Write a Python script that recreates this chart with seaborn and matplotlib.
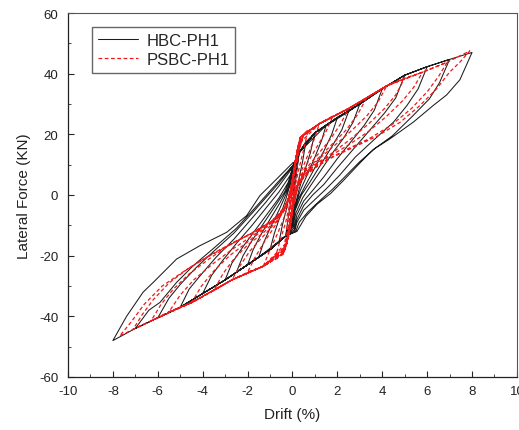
import matplotlib
matplotlib.use("Agg")
import matplotlib.pyplot as plt
import seaborn as sns
import pandas as pd
from matplotlib.ticker import MultipleLocator

# ---- data: (drift %, lateral force kN) along the loading path ----
hbc_path = [
    (0, 0), (0.3, 14), (0.18, 7), (0.05, 0), (-0.05, -6), (-0.1, -11.5), (-0.3, -13.5),
    (-0.18, -7), (-0.05, -1), (0.05, 5),
    (0.3, 14), (0.6, 17.5), (0.45, 11), (0.25, 4), (0.08, -3), (-0.05, -8),
    (-0.3, -13.5), (-0.6, -15.5), (-0.45, -10), (-0.25, -4), (-0.08, 2), (0.04, 7),
    (0.3, 14), (0.6, 17.5), (1.0, 20.5), (0.8, 14), (0.55, 8), (0.3, 2), (0.1, -4), (-0.03, -9),
    (-0.3, -13.5), (-0.6, -15.5), (-1.0, -18), (-0.8, -12.5), (-0.55, -7), (-0.3, -1.5), (-0.08, 4), (0.03, 7.5),
    (0.3, 14), (1.0, 20.5), (1.5, 23), (1.3, 18), (1.0, 12.5), (0.65, 6.5), (0.35, 1.5), (0.1, -4), (-0.02, -9.5),
    (-0.3, -13.5), (-1.0, -18), (-1.5, -20.5), (-1.3, -16), (-1.0, -11), (-0.6, -5), (-0.3, 0), (-0.05, 5), (0.03, 8),
    (0.3, 14), (1.5, 23), (2.0, 25.5), (1.75, 20), (1.4, 14.5), (1.0, 9), (0.6, 3.5), (0.25, -1.5), (0.05, -6), (-0.02, -10),
    (-0.3, -13.5), (-1.5, -20.5), (-2.0, -23), (-1.75, -18), (-1.4, -13), (-1.0, -8), (-0.55, -2.5), (-0.2, 2.5), (0.02, 8),
    (0.3, 14), (1.0, 20.5), (2.0, 25.5), (2.5, 27.5), (2.2, 21.5), (1.8, 16.5), (1.3, 10.5), (0.8, 4.5), (0.4, 0), (0.12, -5), (0.0, -10),
    (-0.3, -13.5), (-1.0, -18), (-2.0, -23), (-2.5, -25.5), (-2.2, -20), (-1.8, -15), (-1.3, -9.5), (-0.8, -4), (-0.35, 1), (-0.05, 6), (0.02, 9),
    (0.3, 14), (1.0, 20.5), (2.5, 27.5), (3.0, 30), (2.7, 24), (2.3, 19), (1.8, 14), (1.3, 8.5), (0.8, 3), (0.45, -1), (0.15, -6), (0.02, -10.5),
    (-0.3, -13.5), (-1.0, -18), (-2.5, -25.5), (-3.0, -28), (-2.7, -22.5), (-2.2, -17), (-1.7, -12), (-1.1, -6), (-0.6, -1), (-0.2, 4), (0.0, 8.5),
    (0.3, 14), (1.0, 20.5), (2.0, 25.5), (3.0, 30), (4.0, 35), (3.65, 28), (3.2, 23), (2.6, 17.5), (2.0, 12), (1.4, 6), (0.9, 1.5), (0.5, -2), (0.2, -6.5), (0.05, -11),
    (-0.3, -13.5), (-1.0, -18), (-2.0, -23), (-3.0, -28), (-4.0, -32.5), (-3.6, -26.5), (-3.1, -21.5), (-2.5, -16), (-1.8, -10), (-1.2, -4.5), (-0.6, 1), (-0.1, 6.5), (0.02, 9),
    (0.3, 14), (1.0, 20.5), (2.0, 25.5), (3.0, 30), (4.0, 35), (5.0, 39.5), (4.6, 32), (4.1, 27), (3.4, 21), (2.7, 15), (2.0, 9), (1.4, 3.5), (0.9, 0), (0.5, -3.5), (0.2, -8), (0.08, -11.5),
    (-0.3, -13.5), (-1.0, -18), (-2.0, -23), (-3.0, -28), (-4.0, -32.5), (-5.0, -37), (-4.6, -31), (-4.1, -26.5), (-3.4, -20.5), (-2.6, -14.5), (-1.9, -8.5), (-1.2, -2.5), (-0.6, 3), (0.0, 9),
    (0.3, 14), (1.0, 20.5), (2.0, 25.5), (3.0, 30), (4.0, 35), (5.0, 39.5), (6.0, 42.3), (5.6, 35), (5.1, 29.5), (4.5, 24), (3.6, 18), (2.8, 12.5), (2.1, 6.5), (1.5, 2), (1.0, -1.5), (0.5, -5), (0.2, -9), (0.1, -12),
    (-0.3, -13.5), (-1.0, -18), (-2.0, -23), (-3.0, -28), (-4.0, -32.5), (-5.0, -37), (-6.0, -40.5), (-5.5, -34), (-5.0, -29.5), (-4.3, -24), (-3.5, -18.5), (-2.6, -12.5), (-1.8, -6), (-1.2, -1), (-0.6, 4), (0.0, 9.5),
    (0.3, 14), (1.0, 20.5), (2.0, 25.5), (3.0, 30), (4.0, 35), (5.0, 39.5), (6.0, 42.3), (7.0, 44.7), (6.55, 37), (6.1, 31.7), (5.35, 26), (4.45, 19.5), (3.7, 15.5), (3.0, 11), (2.4, 6.5), (1.8, 2), (1.2, -2), (0.7, -5.5), (0.3, -9), (0.15, -12),
    (-0.3, -13.5), (-1.0, -18), (-2.0, -23), (-3.0, -28), (-4.0, -32.5), (-5.0, -37), (-6.0, -40.5), (-7.0, -44), (-6.4, -38), (-5.9, -35.4), (-5.16, -28.8), (-4.42, -23.3), (-3.5, -17.5), (-2.5, -11), (-1.7, -4.5), (-1.1, 0.5), (-0.5, 5.5), (0.05, 10),
    (0.3, 14), (1.0, 20.5), (2.0, 25.5), (3.0, 30), (4.0, 35), (5.0, 39.5), (6.0, 42.3), (7.0, 44.7), (8.0, 47), (7.46, 38), (6.87, 33), (6.27, 29.5), (5.38, 24), (4.34, 18.5), (3.6, 15), (3.0, 10.5), (2.3, 5), (1.7, 0.5), (1.1, -3), (0.6, -7), (0.2, -12),
    (-0.3, -13.5), (-1.0, -18), (-2.0, -23), (-3.0, -28), (-4.0, -32.5), (-5.0, -37), (-6.0, -40.5), (-7.0, -44), (-8.0, -48), (-7.39, -40), (-6.65, -32), (-6.2, -28.8), (-5.16, -21.1), (-4.12, -16.7), (-2.93, -12.3), (-2.04, -6.8), (-1.45, -0.2), (-0.85, 4.2), (0.04, 10.8),
]

psbc_path = [
    (0, 0), (0.15, 13), (0.05, 3), (-0.05, -6), (-0.2, -14), (-0.1, -5), (0.0, 3), (0.08, 9),
    (0.35, 19), (0.22, 10), (0.1, 3), (-0.02, -5), (-0.15, -12), (-0.4, -19), (-0.25, -11), (-0.1, -3), (0.02, 4), (0.12, 11),
    (0.35, 19), (0.7, 21.5), (0.5, 15), (0.3, 9), (0.12, 3), (0.0, -5), (-0.15, -12), (-0.3, -17),
    (-0.4, -19), (-0.8, -21.5), (-0.55, -15), (-0.3, -9), (-0.12, -3), (0.0, 4), (0.12, 11),
    (0.35, 19), (1.2, 23.5), (0.95, 18), (0.65, 12.5), (0.35, 7), (0.15, 2), (0.0, -5), (-0.15, -12), (-0.3, -17),
    (-0.4, -19), (-1.3, -23.5), (-1.0, -18), (-0.65, -12.5), (-0.35, -7), (-0.15, -2), (0.0, 4), (0.12, 11),
    (0.35, 19), (1.2, 23.5), (1.8, 26), (1.5, 21), (1.1, 16), (0.7, 11), (0.35, 6), (0.12, 1), (0.0, -5), (-0.15, -13), (-0.35, -18),
    (-1.3, -23.5), (-2.0, -25.5), (-1.7, -21), (-1.3, -16), (-0.85, -11), (-0.45, -6), (-0.15, -1), (0.0, 5), (0.15, 12),
    (0.35, 19), (1.2, 23.5), (1.8, 26), (2.5, 28.5), (2.15, 23.5), (1.7, 18.5), (1.2, 14), (0.7, 9.5), (0.3, 5), (0.1, 0), (-0.05, -7), (-0.2, -14), (-0.4, -19),
    (-1.3, -23.5), (-2.0, -25.5), (-2.7, -28), (-2.35, -23.5), (-1.9, -18.5), (-1.35, -14), (-0.8, -9.5), (-0.35, -5), (-0.1, 0), (0.05, 7), (0.2, 15),
    (0.35, 19), (1.2, 23.5), (2.5, 28.5), (3.3, 32), (2.9, 26.5), (2.4, 21.5), (1.8, 17), (1.2, 12.5), (0.6, 8), (0.25, 4), (0.08, -1), (-0.08, -9), (-0.25, -16), (-0.45, -19.5),
    (-1.3, -23.5), (-2.7, -28), (-3.5, -31.5), (-3.1, -26), (-2.6, -21), (-2.0, -16.5), (-1.3, -12.5), (-0.7, -8), (-0.3, -4), (-0.05, 2), (0.1, 9), (0.3, 17),
    (1.2, 23.5), (2.5, 28.5), (3.3, 32), (4.2, 36), (3.8, 30.5), (3.3, 26), (2.6, 21), (1.9, 16.5), (1.2, 12), (0.6, 7.5), (0.2, 3), (0.02, -4), (-0.15, -12), (-0.35, -18),
    (-1.3, -23.5), (-2.7, -28), (-3.5, -31.5), (-4.5, -35.5), (-4.05, -30), (-3.5, -25), (-2.8, -20), (-2.0, -15.5), (-1.3, -11.5), (-0.6, -7), (-0.2, -2), (0.0, 5), (0.2, 13),
    (0.5, 20), (1.2, 23.5), (2.5, 28.5), (4.2, 36), (5.0, 38.5), (4.6, 33), (4.1, 28.5), (3.4, 23.5), (2.6, 18.5), (1.8, 14), (1.0, 10), (0.45, 6), (0.15, 1), (-0.02, -7), (-0.2, -15), (-0.4, -19.5),
    (-1.3, -23.5), (-2.7, -28), (-4.5, -35.5), (-5.5, -38.5), (-5.0, -33), (-4.4, -28), (-3.6, -23), (-2.7, -18), (-1.8, -13.5), (-1.0, -9.5), (-0.45, -5.5), (-0.12, 0), (0.05, 7), (0.25, 15),
    (0.5, 20), (1.2, 23.5), (2.5, 28.5), (4.2, 36), (5.0, 38.5), (5.8, 40.5), (5.4, 35.5), (4.9, 31), (4.2, 26), (3.4, 21), (2.5, 16.5), (1.6, 12.5), (0.8, 8.5), (0.3, 4), (0.05, -2), (-0.1, -10), (-0.3, -17),
    (-1.3, -23.5), (-2.7, -28), (-4.5, -35.5), (-5.5, -38.5), (-6.3, -41.5), (-5.85, -36), (-5.3, -31), (-4.6, -26), (-3.7, -21), (-2.8, -16.5), (-1.8, -12.5), (-0.9, -8.5), (-0.3, -3.5), (-0.05, 3), (0.15, 12),
    (0.5, 20), (1.2, 23.5), (2.5, 28.5), (4.2, 36), (5.8, 40.5), (6.9, 43.8), (6.5, 39), (6.0, 34), (5.3, 28.5), (4.4, 23), (3.4, 18.5), (2.4, 15), (1.5, 11.5), (0.8, 8), (0.3, 4), (0.05, -3), (-0.12, -11), (-0.3, -17),
    (-1.3, -23.5), (-2.7, -28), (-4.5, -35.5), (-6.3, -41.5), (-7.1, -44.3), (-6.7, -39.5), (-6.2, -34.5), (-5.5, -29), (-4.6, -24), (-3.6, -19.5), (-2.6, -15.5), (-1.6, -12), (-0.8, -8), (-0.3, -4), (-0.05, 2), (0.15, 11),
    (0.5, 20), (1.2, 23.5), (2.5, 28.5), (4.2, 36), (5.8, 40.5), (6.9, 43.8), (7.9, 47.5), (7.46, 43.8), (7.0, 40.5), (6.42, 35), (5.68, 29.5), (4.8, 24), (3.8, 19.5), (2.8, 16), (1.8, 12.5), (1.0, 9), (0.4, 5), (0.1, 0), (-0.1, -8), (-0.3, -16),
    (-1.3, -23.5), (-2.7, -28), (-4.5, -35.5), (-6.3, -41.5), (-7.1, -44.3), (-7.7, -46.5), (-7.2, -42), (-6.6, -36), (-5.8, -30), (-4.8, -25), (-3.8, -20.5), (-2.8, -16.5), (-1.8, -12.5), (-1.0, -9), (-0.4, -5), (-0.1, 0), (0.1, 8), (0.3, 16),
]

series_labels = ["HBC-PH1", "PSBC-PH1"]
x_ticks = [-10, -8, -6, -4, -2, 0, 2, 4, 6, 8, 10]
y_ticks = [-60, -40, -20, 0, 20, 40, 60]

# ---- build tables ----
hbc_df = pd.DataFrame(hbc_path, columns=["drift", "force"])
psbc_df = pd.DataFrame(psbc_path, columns=["drift", "force"])

sns.set_style("ticks")
plt.rcParams["font.family"] = ["Liberation Sans", "DejaVu Sans"]
plt.rcParams["axes.unicode_minus"] = False

fig, ax = plt.subplots(figsize=(5.19, 4.31), dpi=100)
fig.subplots_adjust(left=0.131, right=0.996, bottom=0.123, top=0.9675)

sns.lineplot(data=hbc_df, x="drift", y="force", sort=False, estimator=None,
             color="#1c1c1c", linewidth=0.75, label=series_labels[0], ax=ax)
sns.lineplot(data=psbc_df, x="drift", y="force", sort=False, estimator=None,
             color="#f01818", linewidth=0.9, linestyle=(0, (3, 2)),
             label=series_labels[1], ax=ax)

ax.set_xlim(-10, 10)
ax.set_ylim(-60, 60)
ax.set_xticks(x_ticks)
ax.set_yticks(y_ticks)
ax.xaxis.set_minor_locator(MultipleLocator(1))
ax.yaxis.set_minor_locator(MultipleLocator(10))
ax.tick_params(axis="both", which="major", direction="in", length=4, width=0.8,
               labelsize=9.5, labelcolor="#222222", top=False, right=False)
ax.tick_params(axis="y", which="major", pad=7)
ax.tick_params(axis="x", which="major", pad=6)
ax.tick_params(axis="both", which="minor", direction="in", length=2, width=0.6,
               top=False, right=False)

for side in ["top", "right"]:
    ax.spines[side].set_visible(True)
    ax.spines[side].set_linestyle((0, (1, 1)))
    ax.spines[side].set_linewidth(0.8)
    ax.spines[side].set_color("#555555")
for side in ["left", "bottom"]:
    ax.spines[side].set_linewidth(0.9)
    ax.spines[side].set_color("#222222")

ax.set_xlabel("Drift (%)", fontsize=11, color="#222222", labelpad=7)
ax.set_ylabel("Lateral Force (KN)", fontsize=11, color="#222222", labelpad=6)

leg = ax.legend(loc="upper left", bbox_to_anchor=(0.035, 0.985), fontsize=12,
                frameon=True, fancybox=False, framealpha=1, edgecolor="#666666",
                handlelength=2.4, handletextpad=0.5, borderpad=0.35, labelspacing=0.25)
leg.get_frame().set_linewidth(1.0)

fig.savefig("out.png", dpi=100)
